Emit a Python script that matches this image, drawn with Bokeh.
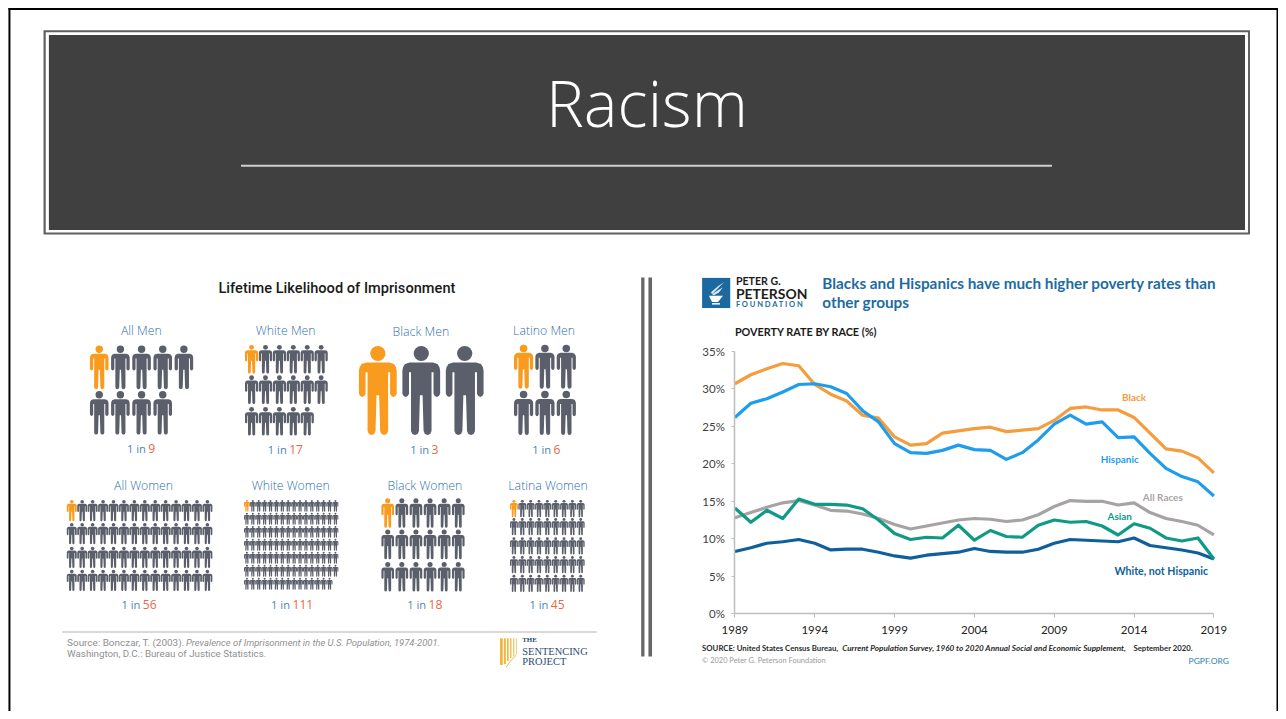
import numpy as np
from bokeh.core.properties import value
from bokeh.embed import file_html
from bokeh.models import FixedTicker, LinearAxis, Range1d
from bokeh.plotting import figure
from bokeh.resources import INLINE

# ---------- data ----------
YEARS = list(range(1989, 2020))
BLACK = [30.7, 31.9, 32.7, 33.4, 33.1, 30.6, 29.3, 28.4, 26.5, 26.1, 23.6, 22.5, 22.7, 24.1, 24.4, 24.7,
         24.9, 24.3, 24.5, 24.7, 25.8, 27.4, 27.6, 27.2, 27.2, 26.2, 24.1, 22.0, 21.7, 20.8, 18.8]
HISPANIC = [26.2, 28.1, 28.7, 29.6, 30.6, 30.7, 30.3, 29.4, 27.1, 25.6, 22.7, 21.5, 21.4, 21.8, 22.5, 21.9,
            21.8, 20.6, 21.5, 23.2, 25.3, 26.5, 25.3, 25.6, 23.5, 23.6, 21.4, 19.4, 18.3, 17.6, 15.7]
ALL_RACES = [12.8, 13.5, 14.2, 14.8, 15.1, 14.5, 13.8, 13.7, 13.3, 12.7, 11.9, 11.3, 11.7, 12.1, 12.5, 12.7,
             12.6, 12.3, 12.5, 13.2, 14.3, 15.1, 15.0, 15.0, 14.5, 14.8, 13.5, 12.7, 12.3, 11.8, 10.5]
ASIAN = [14.1, 12.2, 13.8, 12.7, 15.3, 14.6, 14.6, 14.5, 14.0, 12.5, 10.7, 9.9, 10.2, 10.1, 11.8, 9.8,
         11.1, 10.3, 10.2, 11.8, 12.5, 12.2, 12.3, 11.7, 10.5, 12.0, 11.4, 10.1, 9.7, 10.1, 7.3]
WHITE = [8.3, 8.8, 9.4, 9.6, 9.9, 9.4, 8.5, 8.6, 8.6, 8.2, 7.7, 7.4, 7.8, 8.0, 8.2, 8.7,
         8.3, 8.2, 8.2, 8.6, 9.4, 9.9, 9.8, 9.7, 9.6, 10.1, 9.1, 8.8, 8.5, 8.1, 7.3]
SERIES_NAMES = ["White, not Hispanic", "All Races", "Asian", "Black", "Hispanic"]
Y_TICKS = [0, 5, 10, 15, 20, 25, 30, 35]
X_TICKS = [1989, 1994, 1999, 2004, 2009, 2014, 2019]

GROUPS = ["All Men", "White Men", "Black Men", "Latino Men",
          "All Women", "White Women", "Black Women", "Latina Women"]
ODDS = [9, 17, 3, 6, 56, 111, 18, 45]

# ---------- layout: the slide is 1286 x 719 units, drawn on a 1278 x 711 canvas ----------
W_SLIDE, H_SLIDE = 1286, 719
W_PAGE, H_PAGE = 1278, 711
FS = W_PAGE / W_SLIDE

GRIDS = [
    dict(cols=5, x=90, w=18.7, dx=21.3, tops=[349, 395], h=44),
    dict(cols=6, x=246, w=13.3, dx=14.0, tops=[348.3, 379, 411], h=29),
    dict(cols=3, x=360.7, w=38, dx=43.7, tops=[349.3], h=90),
    dict(cols=3, x=516.7, w=19.3, dx=21.5, tops=[348, 394.7], h=44.7),
    dict(cols=14, x=66.7, w=10, dx=10.5, tops=[505, 528.3, 552.3, 575.7], h=21.5),
    dict(cols=16, x=245, w=5.9, dx=5.94, tops=[505, 518.1, 531.3, 544.4, 557.5, 570.7, 583.8], h=12),
    dict(cols=6, x=383.3, w=12.7, dx=14.2, tops=[503.3, 535, 567.7], h=30),
    dict(cols=9, x=512.7, w=7.9, dx=8.4, tops=[505, 523.3, 542.7, 561.7, 580.7], h=17.5),
]
NAME_POS = [(141.7, 334), (287, 333.5), (423, 335), (547, 334), (144, 490), (292, 490), (427, 490), (551, 490)]
ODDS_POS = [(127.3, 453), (269, 454), (412.3, 454), (535, 454), (121.7, 611), (272.3, 611), (409.3, 611), (532.3, 611)]

BLUE_TXT, RED_TXT = "#2f70aa", "#e6683f"
BLUE_ODDS = "#4a86b8"
GREY_P, ORANGE_P = "#5b5f6b", "#f89b1e"

# the one figure: its default ranges are the chart's, so year and percent land on the chart's axes
PX_X0, PX_X1, PX_Y0, PX_Y35 = 739, 1221, 620, 355
kx = (PX_X1 - PX_X0) / 30
ky = (PX_Y0 - PX_Y35) / 35
p = figure(width=W_PAGE, height=H_PAGE,
           x_range=Range1d(1989 - PX_X0 / kx, 1989 + (W_SLIDE - PX_X0) / kx),
           y_range=Range1d((PX_Y0 - H_SLIDE) / ky, PX_Y0 / ky),
           output_backend="svg", toolbar_location=None, min_border=0, outline_line_color=None,
           background_fill_color="white", border_fill_color="white", x_axis_type=None, y_axis_type=None)
p.grid.visible = False
p.extra_x_ranges["px"] = Range1d(0, W_SLIDE)
p.extra_y_ranges["px"] = Range1d(H_SLIDE, 0)
PXK = dict(x_range_name="px", y_range_name="px")


def txt(x, y, s, size, color, font="Open Sans", style="normal", align="left", chart=False):
    kw = {} if chart else PXK
    p.text([x], [y], text=[s], text_font=value(font), text_font_size=f"{size * FS:.2f}px", text_color=color,
           text_font_style=style, text_align=align, text_baseline="middle", **kw)


def box(left, right, top, bottom, color):
    p.quad(left=left, right=right, top=top, bottom=bottom, fill_color=color, line_color=None, **PXK)


# ---------- slide frame and banner ----------
box([8, 1284, 8], [10, 1286, 1286], [7.5, 7.5, 7.5], [H_SLIDE, H_SLIDE, 9.5], "#000000")
box([43.3], [1257.3], [30], [236.7], "#5f5f5f")
box([45.5], [1255.3], [32], [234.7], "white")
box([48.7], [1252.3], [35], [232], "#404040")
p.line([242, 1058], [167, 167], line_color="#cfcfcf", line_width=2, **PXK)
txt(650.5, 103, "Racism", 64, "white", font="Open Sans Light", align="center")

# ---------- pictograms ----------
RH_X = [57, 92, 106, 112, 114, 114, 110, 104, 98, 94, 94, 88, 88, 84, 76, 68, 64, 61]
RH_Y = [50, 50, 55, 65, 75, 145, 152, 155, 152, 145, 80, 80, 258, 267, 270, 267, 258, 150]
PX = np.array(RH_X + [114 - v for v in RH_X[::-1]], float) / 114
PY = np.array(RH_Y + RH_Y[::-1], float) / 270

for g, n in zip(GRIDS, ODDS):
    xs, ys, cols_, hx, hy = [], [], [], [], []
    k = 0
    for top in g["tops"]:
        for c in range(g["cols"]):
            if k >= n:
                break
            x0 = g["x"] + c * g["dx"]
            xs.append(x0 + PX * g["w"])
            ys.append(top + PY * g["h"])
            cols_.append(ORANGE_P if k == 0 else GREY_P)
            hx.append(x0 + 0.5 * g["w"])
            hy.append(top + 23 / 270 * g["h"])
            k += 1
    p.patches(xs, ys, fill_color=cols_, line_color=None, **PXK)
    p.ellipse(hx, hy, width=46 / 270 * g["h"], height=46 / 270 * g["h"], fill_color=cols_, line_color=None, **PXK)

for name, (x, y) in zip(GROUPS, NAME_POS):
    txt(x, y, name, 12.4, BLUE_TXT, font="Open Sans Light", align="center")
for n, (x, y) in zip(ODDS, ODDS_POS):
    txt(x, y, "1 in", 11.2, BLUE_ODDS)
    txt(x + 21.5, y, str(n), 12.2, RED_TXT)

txt(338.5, 291, "Lifetime Likelihood of Imprisonment", 14.7, "#1a1a1a", font="Roboto Medium", align="center")
p.line([62, 600], [638.5, 638.5], line_color="#cccccc", line_width=1.5, **PXK)
txt(67, 649, "Source: Bonczar, T. (2003).", 10, "#8f8f8f", font="Roboto")
txt(186.7, 649, "Prevalence of Imprisonment in the U.S. Population, 1974-2001.", 9.5, "#8f8f8f",
    font="Roboto", style="italic")
txt(67, 660, "Washington, D.C.: Bureau of Justice Statistics.", 9.8, "#8f8f8f", font="Roboto")

# Sentencing Project logo
BAR_X = [504, 507.5, 510.5, 513.5, 516.5, 519]
BAR_W = [2.8, 2, 1.6, 1.3, 1, 0.7]
BAR_END = [672, 671, 668, 665, 663, 661]
box([x - w / 2 for x, w in zip(BAR_X, BAR_W)], [x + w / 2 for x, w in zip(BAR_X, BAR_W)], [645] * 6, BAR_END, "#efb53c")
p.line([509, 514, 519], [674, 667, 662], line_color="#efb53c", line_width=1, **PXK)
NAVY = "#2b4c70"
txt(525, 647, "THE", 7, NAVY, font="Liberation Serif", style="bold")
txt(525, 658, "SENTENCING", 10.5, NAVY, font="Liberation Serif")
txt(525, 668, "PROJECT", 10.5, NAVY, font="Liberation Serif")

# divider
box([644.7, 652], [648, 655.6], [280, 280], [663.5, 663.5], "#666666")

# ---------- poverty chart ----------
AX_COL, TICK_COL = "#bdbdbd", "#3f3f3f"
ya = LinearAxis(fixed_location=1989, bounds=(0, 35), ticker=FixedTicker(ticks=Y_TICKS),
                major_label_overrides={t: f"{t}%" for t in Y_TICKS}, axis_line_color=AX_COL,
                axis_line_width=1.5, major_tick_line_color=AX_COL, major_tick_in=0, major_tick_out=3,
                minor_tick_line_color=None, major_label_text_font="Lato", major_label_text_font_size="11.5px",
                major_label_text_color=TICK_COL, major_label_standoff=7)
xa = LinearAxis(fixed_location=0, bounds=(1989, 2019), ticker=FixedTicker(ticks=X_TICKS),
                axis_line_color=AX_COL, axis_line_width=1.5, major_tick_line_color=AX_COL,
                major_tick_in=0, major_tick_out=4, minor_tick_line_color=None,
                major_label_text_font="Lato", major_label_text_font_size="11.5px",
                major_label_text_color="#222222", major_label_standoff=8)
p.add_layout(ya, "left")
p.add_layout(xa, "below")

SERIES_DATA = [WHITE, ALL_RACES, ASIAN, BLACK, HISPANIC]
SERIES_COL = ["#0e5f9c", "#a7a3a5", "#0f9a86", "#f59c3c", "#1f9ded"]
LABEL_POS = [(2015.7, 5.7), (2015.8, 15.6), (2013.1, 13.1), (2014.0, 28.9), (2013.1, 20.7)]
LABEL_SIZE = [10.7, 10, 10, 10, 10]
for vals, col in zip(SERIES_DATA, SERIES_COL):
    p.line(YEARS, vals, line_color=col, line_width=3.2, line_join="round")
for name, col, (x, y), sz in zip(SERIES_NAMES, SERIES_COL, LABEL_POS, LABEL_SIZE):
    txt(x, y, name, sz, col, font="Lato", style="bold", align="center", chart=True)

# header of the right panel
PG = "#1d6c9f"
box([706], [734.3], [280.5], [311], "#1b699f")
p.patch([713, 727, 725, 722, 716, 714], [298.5, 298.5, 301, 305, 305, 301], fill_color="white", line_color=None, **PXK)
box([716], [724], [306], [307.5], "white")
p.patch([715, 722, 728, 722, 716], [295, 289, 285, 291, 297], fill_color="#dfeaf2", line_color=None, **PXK)
p.patch([716, 722, 727, 723, 718], [297, 293, 290, 295, 298], fill_color="#dfeaf2", line_color=None, **PXK)
txt(740, 284, "PETER G.", 10.7, "#1c1c1c", font="Lato", style="bold")
txt(740, 296, "PETERSON", 14, "#1c1c1c", font="Lato", style="bold")
txt(740, 307, "F O U N D A T I O N", 7.6, PG, font="Lato", style="bold")
txt(827, 285.5, "Blacks and Hispanics have much higher poverty rates than", 15.4, PG, font="Lato", style="bold")
txt(827, 304.5, "other groups", 15.4, PG, font="Lato", style="bold")
txt(739, 335, "POVERTY RATE BY RACE (%)", 10.9, "#1a1a1a", font="Lato", style="bold")
SRC = "#2a2a2a"
txt(706, 655, "SOURCE: United States Census Bureau,", 7.8, SRC, font="Lato", style="bold")
txt(847, 655, "Current Population Survey, 1960 to 2020 Annual Social and Economic Supplement,", 8.2, SRC,
    font="Lato", style="bold italic")
txt(1140, 655, "September 2020.", 7.8, SRC, font="Lato", style="bold")
txt(706, 667, "© 2020 Peter G. Peterson Foundation", 7.5, "#9a9a9a", font="Lato")
txt(1236, 668, "PGPF.ORG", 8.5, "#2b7fb0", font="Lato", align="right")

open("out.html", "w").write(file_html(p, INLINE))
